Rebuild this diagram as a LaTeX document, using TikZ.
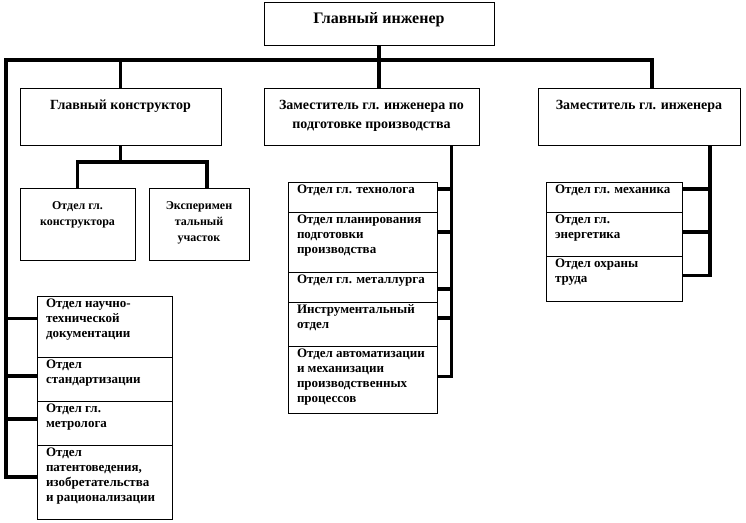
\documentclass[tikz,border=0pt]{standalone}
\usepackage{fontspec}
\setmainfont{Liberation Serif}
\usetikzlibrary{positioning}
\newcommand\ctext[3]{\parbox[c][#2][t]{#1}{\centering\rule{0pt}{21pt}#3}}
\newcommand\ltext[3]{\parbox[c][#2][t]{#1}{\raggedright\leftskip=9pt\rule{0pt}{11pt}#3}}

\begin{document}
\begin{tikzpicture}[x=1pt, y=-1pt,
    unit/.style={draw, line width=1pt, inner sep=0pt, outer sep=0pt, anchor=north west,
      font=\fontsize{14}{19}\selectfont\bfseries},
    dept/.style={unit, font=\fontsize{13}{15}\selectfont\bfseries},
    bus/.style={line width=3.5pt}]
    \useasboundingbox (0,0) rectangle (746,522);

    % top levels
    \node[unit, font=\fontsize{16}{19}\selectfont\bfseries] (chief) at (264,2) {\ctext{230pt}{43pt}{Главный инженер}};
    \node[unit] (glavkon) at (20,88) {\ctext{201pt}{57pt}{Главный конструктор}};
    \node[unit] (podg) at (264,88) {\ctext{215pt}{57pt}{Заместитель гл. инженера по\\подготовке производства}};
    \node[unit] (zam) at (538,88) {\ctext{202pt}{57pt}{Заместитель гл. инженера}};

    \node[unit, font=\fontsize{12}{16}\selectfont\bfseries] (okon) at (20,188) {\ctext{115pt}{72pt}{Отдел гл.\\конструктора}};
    \node[unit, font=\fontsize{12}{16}\selectfont\bfseries] (exper) at (149,188) {\ctext{100pt}{72pt}{Эксперимен\\тальный\\участок}};

    % middle column
    \node[dept] (tech) at (288,182) {\ltext{149pt}{30pt}{Отдел гл. технолога}};
    \node[dept, below=0pt of tech] (plan) {\ltext{149pt}{60pt}{Отдел планирования\\подготовки\\производства}};
    \node[dept, below=0pt of plan] (metal) {\ltext{149pt}{30pt}{Отдел гл. металлурга}};
    \node[dept, below=0pt of metal] (instr) {\ltext{149pt}{44pt}{Инструментальный\\отдел}};
    \node[dept, below=0pt of instr] (auto) {\ltext{149pt}{67pt}{Отдел автоматизации\\и механизации\\производственных\\процессов}};

    % right column
    \node[dept] (mech) at (546,182) {\ltext{136pt}{30pt}{Отдел гл. механика}};
    \node[dept, below=0pt of mech] (energ) {\ltext{136pt}{44pt}{Отдел гл.\\энергетика}};
    \node[dept, below=0pt of energ] (ohr) {\ltext{136pt}{45pt}{Отдел охраны\\труда}};

    % left column
    \node[dept] (ntd) at (37,296) {\ltext{135pt}{61pt}{Отдел научно-\\технической\\документации}};
    \node[dept, below=0pt of ntd] (std) {\ltext{135pt}{44pt}{Отдел\\стандартизации}};
    \node[dept, below=0pt of std] (metr) {\ltext{135pt}{44pt}{Отдел гл.\\метролога}};
    \node[dept, below=0pt of metr] (patent) {\ltext{135pt}{74pt}{Отдел\\патентоведения,\\изобретательства\\и рационализации}};

    % buses
    \coordinate (busL) at (6,60);
    \draw[bus] (chief.south) -- (chief.south |- podg.north);
    \draw[bus] (busL) -| ([xshift=13pt]zam.north);
    \draw[bus] (glavkon.north) |- (busL) |- ([yshift=5pt]patent.west);
    \foreach \c/\d in {ntd/8, std/3, metr/4}
        \draw[bus] ([yshift=\d pt]\c.west) -- ++(-31,0);

    \draw[bus] (glavkon.south) -- ++(0,17) coordinate (kfork);
    \draw[bus] (okon.north) |- (kfork) -| ([xshift=8pt]exper.north);

    \draw[bus] ([xshift=80pt]podg.south) |- ([yshift=3pt]auto.east);
    \foreach \c/\d in {tech/8, plan/10, metal/-2, instr/6}
        \draw[bus] ([yshift=\d pt]\c.east) -- ++(15,0);

    \draw[bus] ([xshift=71pt]zam.south) |- ([yshift=3pt]ohr.east);
    \foreach \c/\d in {mech/8, energ/2}
        \draw[bus] ([yshift=\d pt]\c.east) -- ++(28,0);
\end{tikzpicture}
\end{document}
